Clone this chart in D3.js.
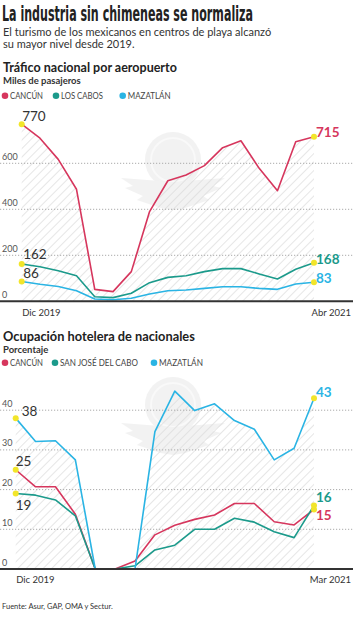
<!DOCTYPE html>
<html>
<head>
<meta charset="utf-8">
<script src="https://cdn.jsdelivr.net/npm/d3@7"></script>
<style>
  body { margin: 0; background: #fff; }
  svg { display: block; font-family: Lato, "Open Sans", sans-serif; }
</style>
</head>
<body>
<div id="chart"></div>
<script>
// datos: tráfico nacional por aeropuerto (miles de pasajeros)
const months1 = ["Dic 2019", "Ene 2020", "Feb 2020", "Mar 2020", "Abr 2020", "May 2020", "Jun 2020", "Jul 2020",
  "Ago 2020", "Sep 2020", "Oct 2020", "Nov 2020", "Dic 2020", "Ene 2021", "Feb 2021", "Mar 2021", "Abr 2021"];
const cancunPax = [770, 709, 617, 487, 52, 42, 129, 390, 524, 549, 590, 668, 698, 578, 481, 694, 715];
const cabosPax = [162, 150, 133, 111, 20, 16, 35, 81, 104, 111, 129, 142, 142, 119, 97, 139, 168];
const mazatlanPax = [86, 74, 64, 46, 10, 7, 13, 32, 46, 49, 56, 63, 63, 56, 52, 75, 83];
const ticks1 = [0, 200, 400, 600];

// datos: ocupación hotelera de nacionales (porcentaje)
const months2 = months1.slice(0, 16);
const cancunOcc = [25, 20.7, 20.7, 13.8, 0, 0, 2, 8.6, 11, 12.5, 13.6, 16.5, 16.5, 11.9, 11.1, 15];
const sjcOcc = [19, 18.6, 17.4, 13.4, 0, 0, 0.8, 4.8, 6, 10, 10, 12.8, 11.8, 9.4, 7.9, 16];
const mazatlanOcc = [38, 32.1, 32.3, 27.5, 0, 0, 0, 34.6, 44.8, 39.9, 41.6, 37.4, 35.2, 27.5, 30.4, 43];
const ticks2 = [0, 10, 20, 30, 40];

const RED = "#d6365d", TEAL = "#1b9a8b", BLUE = "#2ab4e4", YELLOW = "#f2e52a";

const W = 353, H = 620;
const svg = d3.select("#chart").append("svg").attr("width", W).attr("height", H);

// patrón rayado
const defs = svg.append("defs");
defs.append("pattern")
  .attr("id", "hatch")
  .attr("patternUnits", "userSpaceOnUse")
  .attr("width", 6).attr("height", 6)
  .attr("patternTransform", "rotate(45)")
  .append("line")
  .attr("x1", 0).attr("y1", 0).attr("x2", 0).attr("y2", 6)
  .attr("stroke", "#d9d9d9").attr("stroke-width", 1.3);

// texto estrechado horizontalmente hasta el ancho deseado
function fitText(x, y, width, str, style) {
  const t = svg.append("text").attr("x", 0).attr("y", 0).text(str);
  Object.entries(style).forEach(([k, v]) => t.style(k, v));
  const w = t.node().getComputedTextLength();
  t.attr("transform", `translate(${x},${y}) scale(${width / w},1)`);
  return t;
}

// encabezado
fitText(2, 21, 251, "La industria sin chimeneas se normaliza", {
  "font-family": "'Liberation Sans Narrow', 'DejaVu Sans Condensed', sans-serif",
  "font-size": "22px", "font-weight": 700, "fill": "#222"
});
svg.append("text").attr("x", 3).attr("y", 36)
  .style("font-size", "11px").attr("fill", "#333")
  .text("El turismo de los mexicanos en centros de playa alcanzó");
svg.append("text").attr("x", 3).attr("y", 48)
  .style("font-size", "11px").attr("fill", "#333")
  .text("su mayor nivel desde 2019.");

// marca de agua (águila)
function watermark(cx, cy) {
  const g = svg.append("g").attr("opacity", 0.5);
  g.append("circle").attr("cx", cx).attr("cy", cy).attr("r", 28).attr("fill", "#e6e6e6");
  g.append("circle").attr("cx", cx).attr("cy", cy).attr("r", 22).attr("fill", "none")
    .attr("stroke", "#f4f4f4").attr("stroke-width", 2);
  [-1, 1].forEach(s => {
    g.append("path")
      .attr("d", `M${cx} ${cy + 22} L${cx + s * 52} ${cy + 18} L${cx + s * 40} ${cy + 26} L${cx + s * 48} ${cy + 28} L${cx + s * 30} ${cy + 36} L${cx + s * 36} ${cy + 40} L${cx + s * 12} ${cy + 48} L${cx} ${cy + 50} Z`)
      .attr("fill", "#e6e6e6");
  });
}

function drawChart(opt) {
  const { months, series, top, xRange, yDomain, yRange, ticks, title, titleW, subtitle, legendY, legend, xLabelY } = opt;

  fitText(3, top, titleW, title, { "font-size": "12.5px", "font-weight": 700, "fill": "#222" });
  svg.append("text").attr("x", 3).attr("y", top + 12)
    .style("font-size", "9.5px").style("font-weight", 700).attr("fill", "#333").text(subtitle);

  // leyenda
  legend.forEach(d => {
    svg.append("circle").attr("cx", d.x).attr("cy", legendY).attr("r", 3.3).attr("fill", d.color);
    fitText(d.x + 5, legendY + 3.5, d.w, d.label, { "font-size": "9.5px", "fill": "#444" });
  });

  const x = d3.scalePoint().domain(months).range(xRange);
  const y = d3.scaleLinear().domain(yDomain).range(yRange);

  watermark(opt.wm[0], opt.wm[1]);

  // área rayada bajo la serie superior
  const hatchSeries = series.find(s => s.hatch);
  svg.append("path")
    .datum(hatchSeries.values)
    .attr("fill", "url(#hatch)")
    .attr("d", d3.area().x((d, i) => x(months[i])).y0(y(0)).y1(d => y(d)));

  // rejilla
  const grid = svg.append("g");
  ticks.filter(t => t > 0).forEach(t => {
    grid.append("line").attr("x1", 0).attr("x2", W).attr("y1", y(t)).attr("y2", y(t))
      .attr("stroke", "#aaa").attr("stroke-width", 1).attr("stroke-dasharray", "1.2,1.8");
  });
  ticks.forEach(t => {
    grid.append("text").attr("x", 2).attr("y", y(t) - 3.5)
      .style("font-size", "9px").attr("fill", "#555").text(t);
  });

  // líneas
  const line = d3.line().x((d, i) => x(months[i])).y(d => y(d));
  series.forEach(s => {
    svg.append("path").datum(s.values)
      .attr("fill", "none").attr("stroke", s.color).attr("stroke-width", 1.6)
      .attr("stroke-linejoin", "round").attr("d", line);
  });

  // eje base
  svg.append("line").attr("x1", 0).attr("x2", W).attr("y1", y(0)).attr("y2", y(0))
    .attr("stroke", "#333").attr("stroke-width", 2);

  // etiquetas del eje x
  svg.append("text").attr("x", x(months[0]) + 0.5).attr("y", xLabelY)
    .style("font-size", "9.5px").attr("fill", "#333").text(months[0]);
  svg.append("text").attr("x", W - 2).attr("y", xLabelY).attr("text-anchor", "end")
    .style("font-size", "9.5px").attr("fill", "#333").text(months[months.length - 1]);

  // puntos y valores inicial / final
  const last = months.length - 1;
  series.forEach(s => {
    [0, last].forEach(i => {
      svg.append("circle").attr("cx", x(months[i])).attr("cy", y(s.values[i]))
        .attr("r", 3).attr("fill", YELLOW);
    });
    svg.append("text").attr("x", x(months[0]) + s.startDx).attr("y", y(s.values[0]) + s.startDy)
      .style("font-size", "13.5px").attr("fill", "#333").text(s.values[0]);
    svg.append("text").attr("x", x(months[last]) + 2).attr("y", y(s.values[last]) + s.endDy)
      .style("font-size", "13.5px").style("font-weight", 700).attr("fill", s.color).text(s.values[last]);
  });
}

drawChart({
  months: months1,
  top: 72,
  title: "Tráfico nacional por aeropuerto",
  titleW: 174,
  subtitle: "Miles de pasajeros",
  legendY: 95.7,
  legend: [
    { label: "CANCÚN", color: RED, x: 5, w: 33 },
    { label: "LOS CABOS", color: TEAL, x: 56, w: 42 },
    { label: "MAZATLÁN", color: BLUE, x: 122.7, w: 43 }
  ],
  xRange: [21.7, 314],
  yDomain: [0, 800],
  yRange: [301.3, 117.3],
  ticks: ticks1,
  xLabelY: 316,
  wm: [173, 160],
  series: [
    { values: cancunPax, color: RED, hatch: true, startDx: 0.5, startDy: -3, endDy: 0 },
    { values: cabosPax, color: TEAL, startDx: 1.5, startDy: -5, endDy: 1 },
    { values: mazatlanPax, color: BLUE, startDx: 1.5, startDy: -4, endDy: 1 }
  ]
});

drawChart({
  months: months2,
  top: 341,
  title: "Ocupación hotelera de nacionales",
  titleW: 192,
  subtitle: "Porcentaje",
  legendY: 362.7,
  legend: [
    { label: "CANCÚN", color: RED, x: 5, w: 33 },
    { label: "SAN JOSÉ DEL CABO", color: TEAL, x: 55, w: 78 },
    { label: "MAZATLÁN", color: BLUE, x: 154, w: 44 }
  ],
  xRange: [15.7, 314],
  yDomain: [0, 50],
  yRange: [569, 370.5],
  ticks: ticks2,
  xLabelY: 583,
  wm: [173, 405],
  series: [
    { values: cancunOcc, color: RED, startDx: 0, startDy: -4, endDy: 11 },
    { values: sjcOcc, color: TEAL, startDx: 0, startDy: 16, endDy: -3 },
    { values: mazatlanOcc, color: BLUE, hatch: true, startDx: 6, startDy: -2, endDy: -1 }
  ]
});

// fuente
svg.append("text").attr("x", 2).attr("y", 609)
  .style("font-size", "7.5px").attr("fill", "#333").text("Fuente: Asur, GAP, OMA y Sectur.");
</script>
</body>
</html>
